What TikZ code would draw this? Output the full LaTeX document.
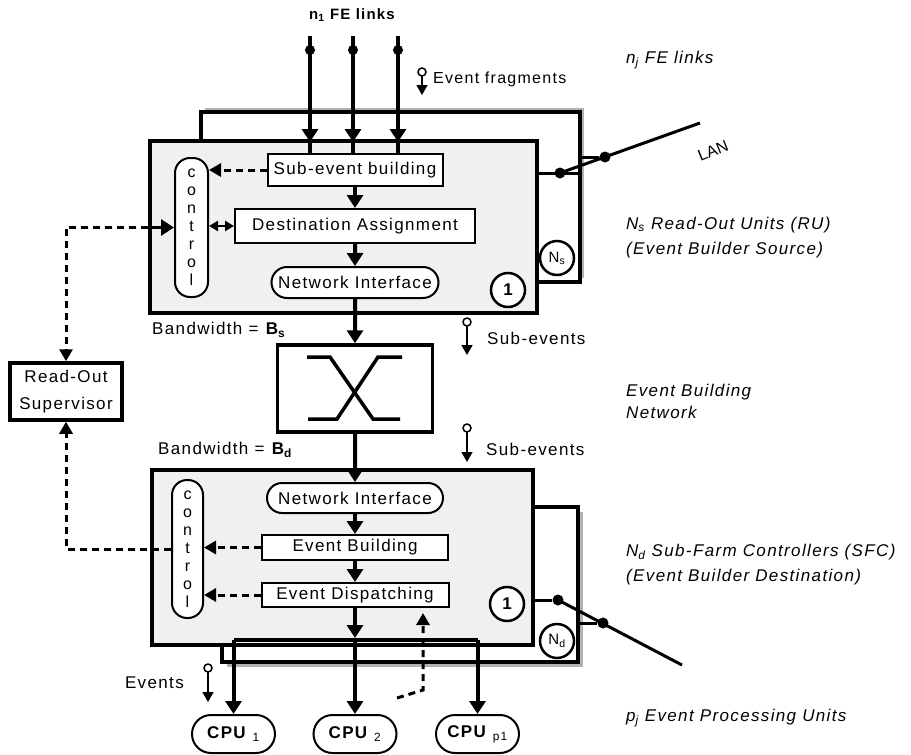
\documentclass[tikz,border=0pt]{standalone}
\usepackage{fontspec}
\setmainfont{Liberation Sans}[LetterSpace=8]
\usetikzlibrary{arrows.meta,positioning,shapes.misc,decorations.markings}

\begin{document}
\begin{tikzpicture}[x=1pt,y=-1pt,
  every node/.style={font=\fontsize{17}{20}\selectfont,align=center,inner sep=2pt},
  unitbox/.style={draw,line width=3.5pt,fill=black!6},
  stackbox/.style={draw,line width=3.5pt,fill=white},
  shadowbox/.style={fill=black!30,draw=none},
  stagebox/.style={draw,line width=2pt,fill=white,inner sep=1pt},
  iface/.style={rounded rectangle,draw,line width=2pt,fill=white,inner sep=1pt},
  ctrlbox/.style={draw,line width=2pt,fill=white,rounded corners=15pt,
    font=\fontsize{16}{18}\selectfont,inner sep=0pt},
  countnode/.style={circle,draw,line width=2.5pt,fill=white,
    minimum size=34pt,inner sep=0pt},
  cpunode/.style={rounded rectangle,draw,line width=2pt,fill=white,
    minimum width=87pt,minimum height=38pt,
    font=\fontsize{17}{20}\selectfont\bfseries},
  landot/.style={circle,fill,minimum size=11pt,inner sep=0pt},
  sidelabel/.style={anchor=west,align=left,
    font=\fontsize{17}{25}\selectfont\itshape},
  flow/.style={line width=4pt,-{Triangle[length=13pt,width=16pt]}},
  twoway/.style={line width=2.5pt,
    {Triangle[length=9pt,width=10pt]}-{Triangle[length=9pt,width=10pt]}},
  ctrlflow/.style={line width=3pt,dash pattern=on 7pt off 5pt,
    -{Triangle[length=12pt,width=13pt]}},
  lanline/.style={line width=3pt},
  busline/.style={line width=4pt},
  felink/.style={line width=4pt,postaction={decorate},
    decoration={markings,
      mark=at position 14pt with {\fill circle (5pt);},
      mark=at position 106pt with {\arrow{Triangle[length=13pt,width=16pt]}}}},
  markarrow/.style={line width=1.5pt,-{Triangle[length=10pt,width=11pt]}}]
  \useasboundingbox (0,0) rectangle (911,755);

  % read-out units
  \node[shadowbox,minimum width=379pt,minimum height=170pt] (rushadow) at (394.5,193) {};
  \node[stackbox,minimum width=379pt,minimum height=170pt] (rustack) at (390.5,197) {};
  \node[unitbox,minimum width=387pt,minimum height=172pt] (ru) at (343.5,227) {};
  \node[ctrlbox,minimum width=33pt,minimum height=139pt] (ructrl) at (191.5,227.5)
    {c\\o\\n\\t\\r\\o\\l};
  \node[stagebox,minimum width=175pt,minimum height=32pt] (subev) at (355,170)
    {Sub-event building};
  \node[stagebox,minimum width=240pt,minimum height=34pt,below=21pt of subev] (dest)
    {Destination Assignment};
  \node[iface,minimum width=169pt,minimum height=31pt,below=22pt of dest] (runi)
    {Network Interface};
  \node[countnode] (ruone) at (508,290) {\bfseries 1};
  \node[countnode,font=\fontsize{15}{18}\selectfont] (rucount) at (557,258) {N\textsubscript{s}};

  % event building network
  \node[draw,line width=3.5pt,minimum width=155pt,minimum height=87pt] (switch)
    at (355,388.5) {};
  \draw[line width=3.5pt] ([shift={(-48,-31.5)}]switch.center) -- ++(23,0)
    -- ++(43,62) -- ++(27,0);
  \draw[line width=3.5pt] ([shift={(47,-31.5)}]switch.center) -- ++(-24,0)
    -- ++(-41,62) -- ++(-29,0);

  % sub-farm controllers
  \node[shadowbox,minimum width=356pt,minimum height=155pt] (sfcshadow) at (405,589.5) {};
  \node[stackbox,minimum width=356pt,minimum height=155pt] (sfcstack) at (400,584.5) {};
  \node[unitbox,minimum width=381pt,minimum height=175pt] (sfc) at (342.5,557.5) {};
  \node[ctrlbox,minimum width=31pt,minimum height=138pt] (sfcctrl) at (187.5,549)
    {c\\o\\n\\t\\r\\o\\l};
  \node[iface,minimum width=178pt,minimum height=30pt] (sfcni) at (355,498)
    {Network Interface};
  \node[stagebox,minimum width=186pt,minimum height=25pt,below=20pt of sfcni] (evbuild)
    {Event Building};
  \node[stagebox,minimum width=187pt,minimum height=24pt,below=21pt of evbuild] (evdisp)
    {Event Dispatching};
  \node[countnode] (sfcone) at (507,604) {\bfseries 1};
  \node[countnode,font=\fontsize{15}{18}\selectfont] (sfccount) at (557,641) {N\textsubscript{d}};

  % supervisor and processing units
  \node[draw,line width=3.5pt,fill=white,minimum width=112pt,minimum height=57pt,
    font=\fontsize{17}{27}\selectfont] (sup) at (66,391.5) {Read-Out\\Supervisor};
  \node[cpunode] (cpuA) at (233.5,734) {CPU\hspace{7pt}\textsubscript{\mdseries 1}};
  \node[cpunode] (cpuB) at (355,734) {CPU\hspace{7pt}\textsubscript{\mdseries 2}};
  \node[cpunode] (cpuC) at (477.5,734) {CPU\hspace{7pt}\textsubscript{\mdseries p1}};

  % data flow
  \foreach \x [count=\i] in {310,353,398} {
    \coordinate (fe\i) at (\x,36);
    \draw[felink] (fe\i) -- (fe\i |- subev.north);
  }
  \draw[flow] (subev) -- (dest);
  \draw[flow] (dest) -- (runi);
  \draw[flow] (runi) -- (switch);
  \draw[flow] (switch) -- (sfcni);
  \draw[flow] (sfcni) -- (evbuild);
  \draw[flow] (evbuild) -- (evdisp);
  \draw[flow] (evdisp) -- (evdisp.south |- 0,638);
  \draw[busline] (cpuA.north |- 0,640) -- (cpuC.north |- 0,640);
  \foreach \c in {cpuA,cpuB,cpuC}
    \draw[flow] (\c.north |- 0,640) -- (\c.north);

  % control
  \draw[ctrlflow] (subev.west) -- (subev.west -| ructrl.east);
  \draw[twoway] (ructrl.east |- dest.west) -- (dest.west);
  \draw[flow,line width=3pt] (ru.west |- ructrl.west) -- (ructrl.west);
  \draw[ctrlflow] (ru.west |- ructrl.west) -| (sup.north);
  \draw[ctrlflow] (evbuild.west) -- (evbuild.west -| sfcctrl.east);
  \draw[ctrlflow] (evdisp.west) -- (evdisp.west -| sfcctrl.east);
  \draw[ctrlflow] (sfcctrl.west) -| (sup.south);
  \coordinate (fbstart) at (397,698);
  \coordinate (fbbend) at (423,690);
  \draw[ctrlflow] (fbstart) -- (fbbend) -- (fbbend |- 0,613);

  % LAN
  \node[landot] (rudotA) at (560,173) {};
  \node[landot] (rudotB) at (605,157) {};
  \coordinate (rulanend) at (700,123);
  \draw[lanline] (ru.east |- rudotA) -- (rustack.east |- rudotA);
  \draw[lanline] (rudotA.center) -- (rulanend);
  \draw[lanline] (rustack.east |- rudotB) -- (rudotB);
  \node[rotate=22,inner sep=0pt,
    font=\fontsize{16}{18}\selectfont\addfontfeature{LetterSpace=0}] (lanlbl)
    at (713,151) {LAN};
  \node[landot] (sfcdotA) at (558,600) {};
  \node[landot] (sfcdotB) at (603,623) {};
  \coordinate (sfclanend) at (682,665);
  \draw[lanline] (sfc.east |- sfcdotA) -- (sfcdotA);
  \draw[lanline] (sfcdotA.center) -- (sfclanend);
  \draw[lanline] (sfcstack.east |- sfcdotB) -- (sfcdotB);

  % flow markers
  \foreach \x/\y/\len in {422/72/23, 467/322/33, 467/428/34, 208/668/34} {
    \draw[line width=1.5pt] (\x,\y) circle (4pt);
    \draw[markarrow] (\x,\y+4) -- (\x,\y+\len);
  }

  % labels
  \node[font=\fontsize{15}{18}\selectfont\bfseries] (felbl) at (352,15)
    {n\textsubscript{1} FE links};
  \node[anchor=west,font=\fontsize{16}{18}\selectfont] (fraglbl) at (431,79)
    {Event fragments};
  \node[anchor=west] (subevlblA) at (485,338) {Sub-events};
  \node[anchor=west] (subevlblB) at (484,449) {Sub-events};
  \node[anchor=east] (evlbl) at (186,683) {Events};
  \node[anchor=west] (bwsrc) at (150,330) {Bandwidth = \textbf{B\textsubscript{s}}};
  \node[anchor=west] (bwdst) at (156,450) {Bandwidth = \textbf{B\textsubscript{d}}};
  \node[sidelabel] (felinks) at (624,60) {n\textsubscript{j} FE links};
  \node[sidelabel] (rulbl) at (624,237.5)
    {N\textsubscript{s} Read-Out Units (RU)\\(Event Builder Source)};
  \node[sidelabel,font=\fontsize{17}{22}\selectfont\itshape] (ebnlbl) at (624,401)
    {Event Building\\Network};
  \node[sidelabel] (sfclbl) at (624,564.5)
    {N\textsubscript{d} Sub-Farm Controllers (SFC)\\(Event Builder Destination)};
  \node[sidelabel] (cpulbl) at (624,718) {p\textsubscript{j} Event Processing Units};
\end{tikzpicture}
\end{document}
